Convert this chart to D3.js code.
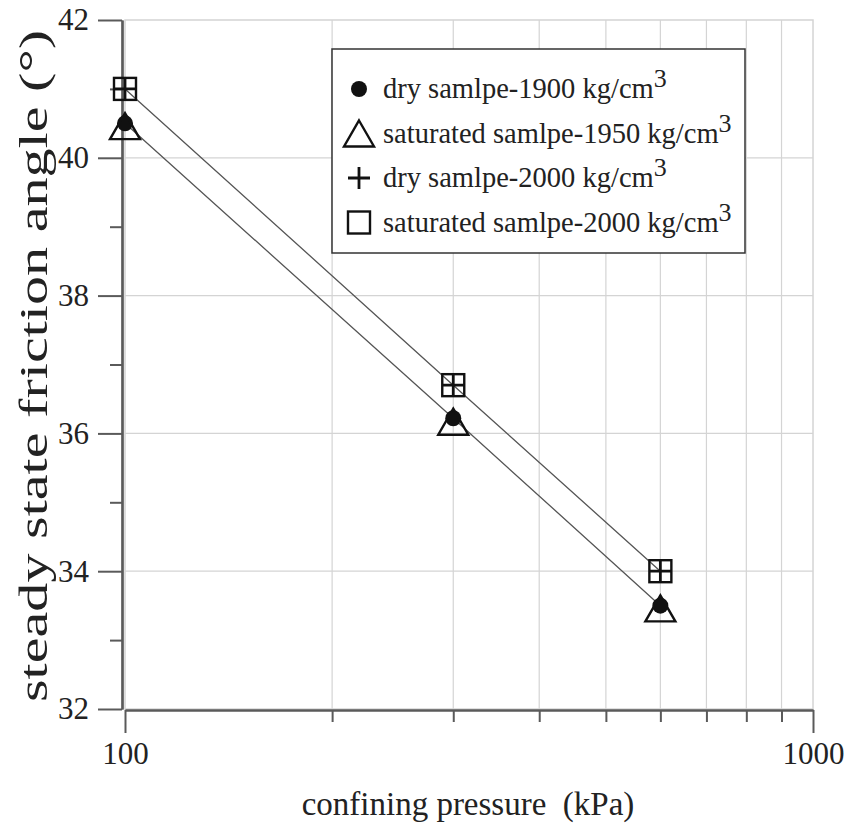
<!DOCTYPE html>
<html>
<head>
<meta charset="utf-8">
<script src="https://cdn.jsdelivr.net/npm/d3@7"></script>
<style>
  html, body { margin: 0; padding: 0; background: #fff; }
  svg { display: block; }
  svg text { font-family: "Liberation Serif", "Times New Roman", serif !important; }
</style>
</head>
<body>
<svg id="chart" width="851" height="827"></svg>
<script>
// Confining pressure (kPa) at which each test was run
const pressures = [100, 300, 600];

// Steady state friction angle (degrees) per sample type
const dry1900 = [40.5, 36.22, 33.5];
const sat1950 = [40.46, 36.17, 33.46];
const dry2000 = [41.0, 36.7, 34.0];
const sat2000 = [41.0, 36.7, 34.0];

// Axis ticks
const yMajorTicks = [32, 34, 36, 38, 40, 42];
const yMinorTicks = [33, 35, 37, 39, 41];
const xMajorTicks = [100, 1000];
const xMinorTicks = [200, 300, 400, 500, 600, 700, 800, 900];

// Legend entries
const legendLabels = [
  "dry samlpe-1900 kg/cm",
  "saturated samlpe-1950 kg/cm",
  "dry samlpe-2000 kg/cm",
  "saturated samlpe-2000 kg/cm"
];
const legendSymbols = ["circle", "triangle", "plus", "square"];

const svg = d3.select("#chart");
const plot = { left: 125, right: 813, top: 20, bottom: 709 };

const x = d3.scaleLog().domain([100, 1000]).range([plot.left, plot.right]);
const y = d3.scaleLinear().domain([32, 42]).range([plot.bottom, plot.top]);

const gridColor = "#d4d4d4";
const axisColor = "#5a5a5a";
const textColor = "#222";

// Grid
const grid = svg.append("g");
grid.selectAll("line.v").data(xMinorTicks).join("line")
  .attr("x1", d => x(d)).attr("x2", d => x(d))
  .attr("y1", plot.top).attr("y2", plot.bottom)
  .attr("stroke", gridColor).attr("stroke-width", 1.2);
grid.selectAll("line.h").data(yMajorTicks.slice(1, -1)).join("line")
  .attr("x1", plot.left).attr("x2", plot.right)
  .attr("y1", d => y(d)).attr("y2", d => y(d))
  .attr("stroke", gridColor).attr("stroke-width", 1.2);
// frame of the plotting area
grid.append("rect")
  .attr("x", plot.left).attr("y", plot.top)
  .attr("width", plot.right - plot.left).attr("height", plot.bottom - plot.top)
  .attr("fill", "none").attr("stroke", gridColor).attr("stroke-width", 1.5);

// Y axis (offset a little to the left of the plot frame)
const yAxisX = 122;
const yMajor = svg.append("g").attr("transform", `translate(${yAxisX},0)`)
  .call(d3.axisLeft(y).tickValues(yMajorTicks).tickSize(24).tickSizeOuter(0).tickPadding(9).tickFormat(d3.format("d")));
const yMinor = svg.append("g").attr("transform", `translate(${yAxisX},0)`)
  .call(d3.axisLeft(y).tickValues(yMinorTicks).tickSize(12).tickSizeOuter(0).tickFormat(""));

// X axis (offset a little below the plot frame)
const xAxisY = 710;
const xMajor = svg.append("g").attr("transform", `translate(0,${xAxisY})`)
  .call(d3.axisBottom(x).tickValues(xMajorTicks).tickSize(23).tickSizeOuter(0).tickPadding(9).tickFormat(d3.format("d")));
const xMinor = svg.append("g").attr("transform", `translate(0,${xAxisY})`)
  .call(d3.axisBottom(x).tickValues(xMinorTicks).tickSize(12).tickSizeOuter(0).tickFormat(""));

[yMajor, yMinor, xMajor, xMinor].forEach(g => {
  g.selectAll("path.domain").attr("stroke", axisColor).attr("stroke-width", 2.2);
  g.selectAll(".tick line").attr("stroke", axisColor).attr("stroke-width", 2);
  g.selectAll(".tick text").attr("fill", textColor).attr("font-size", 31);
});

// Axis titles
svg.append("text")
  .attr("x", 468).attr("y", 815)
  .attr("text-anchor", "middle").attr("font-size", 33).attr("fill", textColor)
  .attr("xml:space", "preserve")
  .text("confining pressure  (kPa)");
svg.append("text")
  .attr("transform", "translate(47,366) rotate(-90)")
  .attr("text-anchor", "middle").attr("font-size", 41).attr("fill", textColor)
  .attr("textLength", 672).attr("lengthAdjust", "spacingAndGlyphs")
  .text("steady state friction angle (°)");

// Connecting lines
const line = d3.line().x((d, i) => x(pressures[i])).y(d => y(d));
svg.append("path").datum(dry2000).attr("d", line)
  .attr("fill", "none").attr("stroke", "#555").attr("stroke-width", 1.3);
svg.append("path").datum(dry1900).attr("d", line)
  .attr("fill", "none").attr("stroke", "#555").attr("stroke-width", 1.3);

// Marker drawing
function drawMarker(g, type, cx, cy) {
  if (type === "circle") {
    g.append("circle").attr("cx", cx).attr("cy", cy).attr("r", 8).attr("fill", "#111");
  } else if (type === "triangle") {
    const w = 30, h = 26;
    g.append("path")
      .attr("d", `M${cx},${cy - h / 2}L${cx + w / 2},${cy + h / 2}L${cx - w / 2},${cy + h / 2}Z`)
      .attr("fill", "none").attr("stroke", "#111").attr("stroke-width", 2.4);
  } else if (type === "plus") {
    const s = 11;
    g.append("path")
      .attr("d", `M${cx - s},${cy}H${cx + s}M${cx},${cy - s}V${cy + s}`)
      .attr("stroke", "#111").attr("stroke-width", 2.8);
  } else if (type === "square") {
    const s = 22;
    g.append("rect").attr("x", cx - s / 2).attr("y", cy - s / 2)
      .attr("width", s).attr("height", s)
      .attr("fill", "none").attr("stroke", "#111").attr("stroke-width", 2.4);
  }
}

const marks = svg.append("g");
const seriesList = [
  { values: dry1900, type: "circle" },
  { values: sat1950, type: "triangle" },
  { values: sat2000, type: "square" },
  { values: dry2000, type: "plus" }
];
seriesList.forEach(s => {
  s.values.forEach((v, i) => drawMarker(marks, s.type, x(pressures[i]), y(v)));
});

// Legend
const legend = svg.append("g");
legend.append("rect")
  .attr("x", 332).attr("y", 49).attr("width", 413).attr("height", 204)
  .attr("fill", "#fff").attr("stroke", "#333").attr("stroke-width", 1.5);
legendLabels.forEach((label, i) => {
  const rowY = 89 + i * 44.5;
  drawMarker(legend, legendSymbols[i], 359, rowY);
  const t = legend.append("text")
    .attr("x", 383).attr("y", rowY + 9)
    .attr("font-size", 28.5).attr("fill", textColor);
  t.append("tspan").text(label);
  t.append("tspan").attr("dy", -11).attr("font-size", 26).text("3");
});
</script>
</body>
</html>
